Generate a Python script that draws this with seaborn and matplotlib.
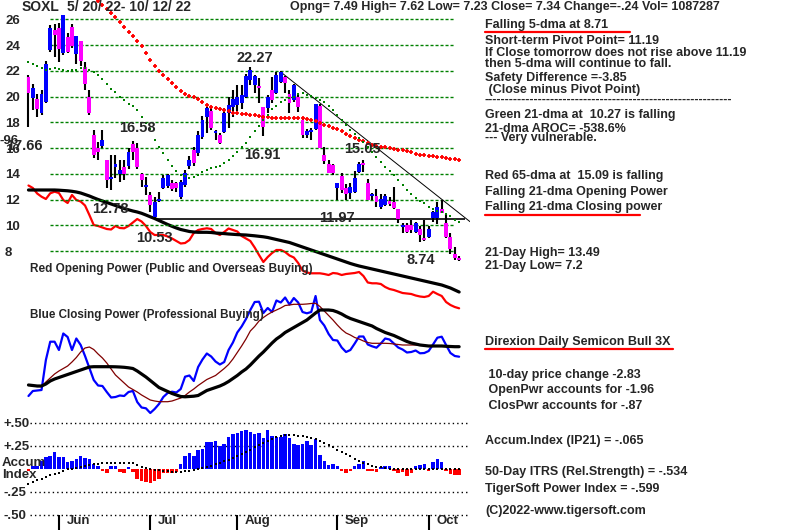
import matplotlib.pyplot as plt
import matplotlib.lines as mlines
import seaborn as sns

sns.set_style('white')
plt.rcParams['font.family'] = ['Liberation Sans', 'DejaVu Sans']
plt.rcParams['font.weight'] = 'bold'

# SOXL daily bars 5/20/22 - 10/12/22 (100 trading days)
days = list(range(100))
opens = [21.5, 19.9, 19.8, 18.7, 19.6, 23.6, 25.2, 25.3, 23.4, 24.6,
         25.4, 23.3, 24.3, 22.3, 20.0, 17.0, 16.0, 16.2, 15.1, 13.6,
         14.5, 14.0, 14.5, 14.6, 16.3, 16.0, 14.0, 12.97, 12.36, 10.65,
         11.9, 12.9, 13.05, 13.3, 13.3, 12.2, 13.1, 14.6, 15.85, 15.6,
         16.85, 18.4, 18.9, 17.2, 17.0, 17.25, 18.7, 19.2, 19.35, 19.5,
         20.0, 21.3, 20.9, 20.75, 19.2, 19.1, 20.5, 20.3, 21.1, 21.5,
         20.2, 19.75, 20.0, 18.2, 17.0, 17.25, 17.45, 19.3, 15.5, 14.8,
         14.7, 12.9, 13.8, 12.9, 12.5, 12.6, 14.15, 14.85, 13.3, 12.3,
         12.3, 11.45, 11.6, 11.9, 11.8, 11.25, 9.9, 10.0, 10.0, 9.5,
         9.7, 8.95, 9.1, 10.55, 10.6, 11.25, 10.2, 9.1, 7.8, 7.49]
highs = [21.7, 21.0, 20.2, 20.5, 22.8, 25.55, 25.6, 25.7, 26.3, 24.9,
         25.6, 24.7, 24.3, 22.7, 20.5, 17.4, 16.5, 17.4, 15.1, 15.5,
         15.5, 15.1, 15.1, 16.0, 16.58, 16.4, 14.05, 13.75, 12.6, 12.2,
         12.6, 13.9, 14.0, 13.5, 13.4, 13.5, 14.3, 15.4, 16.1, 17.3,
         18.5, 19.2, 19.1, 17.4, 17.2, 19.1, 20.0, 20.5, 20.9, 20.9,
         21.75, 22.27, 21.7, 21.45, 19.2, 20.1, 21.5, 21.9, 22.0, 21.6,
         20.5, 21.0, 20.2, 18.3, 17.5, 17.6, 19.4, 19.4, 16.1, 15.1,
         14.8, 13.3, 14.1, 13.2, 13.3, 14.2, 14.9, 15.05, 13.6, 12.5,
         12.8, 12.4, 12.4, 12.2, 13.0, 11.25, 10.2, 10.2, 10.45, 10.3,
         9.95, 10.4, 9.95, 11.15, 11.8, 12.0, 10.9, 9.4, 8.3, 7.62]
lows = [17.66, 18.95, 18.4, 18.6, 19.5, 23.5, 23.1, 22.7, 23.2, 23.4,
        23.8, 22.5, 22.4, 20.5, 18.6, 15.2, 15.1, 16.0, 12.9, 12.78,
        13.7, 13.4, 13.5, 14.4, 15.1, 14.4, 13.0, 12.35, 11.05, 10.53,
        11.8, 12.8, 12.9, 12.7, 12.6, 12.05, 13.0, 14.4, 14.6, 15.4,
        16.7, 17.2, 17.4, 16.6, 16.3, 17.2, 17.6, 18.4, 18.9, 19.0,
        19.9, 20.9, 20.3, 19.5, 16.91, 18.7, 19.5, 20.2, 21.05, 20.3,
        18.7, 19.6, 18.8, 16.8, 16.8, 16.6, 17.4, 16.0, 14.8, 14.05,
        13.9, 12.0, 12.5, 12.0, 12.05, 12.5, 14.1, 14.15, 12.0, 12.0,
        11.4, 11.3, 11.5, 11.5, 11.3, 10.2, 9.4, 9.4, 9.4, 9.4,
        8.74, 8.8, 9.0, 10.3, 10.1, 10.95, 9.0, 7.8, 7.3, 7.23]
closes = [20.3, 20.7, 19.0, 20.2, 22.5, 25.3, 24.8, 23.7, 26.3, 23.5,
          23.9, 24.7, 22.8, 21.0, 18.7, 15.5, 15.7, 16.6, 13.5, 13.7,
          14.8, 14.3, 14.0, 15.7, 15.7, 14.55, 13.5, 13.1, 11.6, 11.8,
          12.05, 13.7, 13.9, 12.8, 12.9, 13.35, 14.05, 15.1, 14.85, 17.0,
          18.2, 19.1, 17.55, 17.3, 16.4, 18.7, 19.35, 19.8, 19.95, 20.1,
          21.6, 22.1, 21.6, 20.65, 17.65, 20.0, 19.75, 21.7, 21.9, 21.05,
          19.5, 20.9, 19.2, 17.0, 17.3, 17.4, 19.4, 16.0, 15.0, 14.05,
          14.05, 13.3, 12.75, 12.45, 13.0, 13.7, 14.8, 14.7, 12.0, 12.45,
          11.8, 12.05, 12.3, 11.65, 11.35, 10.5, 9.95, 9.5, 9.65, 10.2,
          9.25, 8.9, 9.7, 11.05, 11.45, 11.0, 9.1, 8.15, 7.45, 7.34]

# red 65-dma (visible from day 16), green 21-dma
ma65_start = 16
ma65 = [27.4, 27.1, 26.8, 26.5, 26.2, 25.8, 25.4, 25.05, 24.7, 24.35,
        23.9, 23.4, 22.85, 22.4, 22.0, 21.65, 21.35, 21.05, 20.75, 20.45,
        20.2, 20.05, 19.95, 19.8, 19.6, 19.35, 19.22, 19.12, 19.02, 18.96,
        18.85, 18.72, 18.7, 18.68, 18.65, 18.6, 18.55, 18.5, 18.45, 18.4,
        18.36, 18.35, 18.34, 18.34, 18.33, 18.33, 18.32, 18.3, 18.25, 18.18,
        18.08, 17.95, 17.8, 17.7, 17.6, 17.45, 17.3, 17.12, 16.95, 16.78,
        16.65, 16.52, 16.4, 16.28, 16.2, 16.12, 16.05, 16.0, 15.95, 15.88,
        15.82, 15.75, 15.66, 15.56, 15.47, 15.43, 15.39, 15.35, 15.33, 15.28,
        15.23, 15.18, 15.13, 15.09]
ma21 = [22.66, 22.5, 22.35, 22.2, 22.1, 22.15, 22.2, 22.15, 22.06, 22.0,
        22.06, 22.1, 22.2, 22.2, 22.1, 21.9, 21.67, 21.4, 21.0, 20.6,
        20.35, 20.0, 19.73, 19.45, 19.25, 18.96, 18.45, 17.95, 17.5, 16.6,
        16.1, 15.6, 15.1, 14.6, 14.25, 13.95, 13.8, 13.7, 13.72, 13.9,
        14.12, 14.3, 14.48, 14.56, 14.64, 14.82, 15.08, 15.39, 15.72, 16.06,
        16.4, 16.85, 17.3, 17.7, 18.15, 18.6, 19.0, 19.3, 19.55, 19.73,
        19.87, 20.0, 20.2, 20.25, 20.15, 20.05, 19.9, 19.73, 19.55, 19.25,
        18.95, 18.6, 18.2, 17.8, 17.4, 17.1, 16.8, 16.5, 16.1, 15.7,
        15.33, 14.95, 14.56, 14.25, 13.95, 13.55, 13.15, 12.75, 12.4, 12.1,
        11.9, 11.7, 11.45, 11.25, 11.08, 11.05, 10.9, 10.7, 10.45, 10.27]

# resistance trend line and support line
trend_x = [58.4, 101.5]
trend_y = [21.8, 10.29]
support_level = 10.53
support_from, support_to = 29, 100.3

grid_levels = [8, 10, 12, 14, 16, 18, 20, 22, 24, 26]
price_notes = [('22.27', 52.1, 23.0), ('16.58', 25.1, 17.56), ('16.91', 53.8, 15.46),
               ('15.05', 76.8, 15.93), ('12.78', 18.9, 11.27), ('10.53', 28.9, 9.0),
               ('11.97', 70.9, 10.57), ('8.74', 90.2, 7.3)]

# Opening power (arbitrary units) and its 21-dma
open_pwr = [12.45, 12.2, 11.65, 11.33, 11.1, 11.67, 11.83, 11.7, 11.0, 10.7,
            11.5, 11.0, 10.85, 10.45, 9.5, 8.5, 8.4, 8.25, 8.1, 8.05,
            8.4, 8.2, 8.17, 8.4, 8.75, 9.1, 8.85, 8.4, 7.8, 7.5,
            7.5, 7.5, 7.35, 7.15, 6.9, 6.65, 6.7, 7.0, 7.7, 8.0,
            8.1, 8.17, 8.1, 7.7, 7.5, 7.8, 8.15, 8.0, 7.85, 7.4,
            7.15, 6.9, 6.25, 5.5, 4.8, 5.3, 5.7, 6.0, 6.0, 5.8,
            5.45, 5.25, 4.7, 3.95, 3.75, 3.67, 3.67, 3.67, 3.6, 3.5,
            3.7, 3.65, 3.5, 3.6, 3.65, 3.7, 3.8, 3.4, 2.75, 2.67,
            2.67, 2.6, 2.3, 2.1, 2.0, 1.85, 1.7, 1.65, 1.6, 1.45,
            1.35, 1.3, 1.4, 1.83, 1.6, 1.4, 0.8, 0.5, 0.3, 0.17]
open_pwr_ma = [12.0, 12.0, 12.0, 12.0, 12.0, 12.0, 12.0, 11.98, 11.95, 11.92,
               11.87, 11.8, 11.7, 11.55, 11.4, 11.22, 11.05, 10.9, 10.75, 10.6,
               10.45, 10.3, 10.15, 10.02, 9.9, 9.8, 9.67, 9.5, 9.32, 9.15,
               8.95, 8.75, 8.55, 8.37, 8.2, 8.05, 7.95, 7.85, 7.8, 7.77,
               7.77, 7.77, 7.75, 7.7, 7.67, 7.64, 7.6, 7.57, 7.54, 7.52,
               7.5, 7.46, 7.42, 7.37, 7.32, 7.25, 7.15, 7.05, 6.95, 6.85,
               6.75, 6.6, 6.45, 6.3, 6.15, 6.0, 5.85, 5.7, 5.55, 5.4,
               5.25, 5.1, 4.95, 4.8, 4.65, 4.52, 4.4, 4.3, 4.2, 4.1,
               4.0, 3.9, 3.8, 3.7, 3.6, 3.5, 3.4, 3.3, 3.2, 3.1,
               3.0, 2.9, 2.8, 2.7, 2.6, 2.5, 2.35, 2.2, 2.0, 1.8]

# Closing power (arbitrary units), short and long averages
close_pwr = [2.4, 2.9, 2.95, 3.0, 6.0, 7.83, 7.83, 7.0, 8.65, 8.3,
             7.0, 8.15, 7.5, 6.4, 5.2, 4.0, 3.45, 3.4, 2.8, 2.25,
             2.3, 2.45, 2.4, 2.8, 2.9, 1.8, 1.25, 1.17, 0.7, 1.1,
             1.6, 2.3, 2.7, 2.83, 2.75, 3.1, 4.33, 4.45, 3.9, 5.3,
             6.05, 6.65, 6.35, 5.85, 5.55, 5.8, 7.0, 7.75, 8.75, 9.35,
             10.1, 11.0, 11.8, 11.83, 10.7, 11.2, 10.8, 11.95, 11.75, 12.25,
             11.55, 12.2, 11.75, 10.8, 10.67, 10.8, 12.4, 10.0, 9.45, 8.6,
             8.0, 7.95, 7.25, 6.8, 7.0, 7.65, 8.35, 8.35, 7.55, 7.37,
             7.23, 7.65, 8.15, 8.05, 7.65, 7.25, 7.05, 6.75, 6.8, 6.95,
             6.67, 6.7, 6.9, 7.55, 8.23, 8.33, 7.5, 6.7, 6.4, 6.33]
close_pwr_ma = [3.5, 3.4, 3.35, 3.35, 3.8, 4.2, 4.6, 4.9, 5.15, 5.4,
                5.8, 6.25, 6.8, 7.2, 7.3, 7.05, 6.6, 6.2, 5.7, 5.1,
                4.5, 4.1, 3.7, 3.3, 3.05, 2.8, 2.5, 2.25, 2.0, 1.9,
                1.83, 1.83, 1.83, 1.9, 2.05, 2.2, 2.45, 2.8, 3.1, 3.45,
                3.75, 4.05, 4.25, 4.45, 4.8, 5.15, 5.55, 6.1, 6.75, 7.4,
                8.1, 8.9, 9.35, 9.9, 10.25, 10.55, 10.8, 11.0, 11.2, 11.45,
                11.5, 11.57, 11.57, 11.57, 11.6, 11.65, 11.67, 11.35, 10.9, 10.45,
                10.0, 9.5, 9.05, 8.7, 8.5, 8.25, 8.1, 7.9, 7.75, 7.67,
                7.67, 7.67, 7.67, 7.65, 7.6, 7.55, 7.5, 7.5, 7.5, 7.5,
                7.47, 7.44, 7.4, 7.4, 7.4, 7.4, 7.35, 7.3, 7.27, 7.27]
close_pwr_long = [3.5, 3.45, 3.4, 3.4, 3.6, 3.9, 4.1, 4.25, 4.4, 4.55,
                  4.7, 4.85, 5.0, 5.15, 5.3, 5.33, 5.33, 5.33, 5.33, 5.33,
                  5.32, 5.3, 5.27, 5.22, 5.15, 4.9, 4.6, 4.3, 3.95, 3.6,
                  3.25, 3.05, 2.85, 2.65, 2.5, 2.35, 2.32, 2.35, 2.38, 2.45,
                  2.7, 2.95, 3.1, 3.25, 3.4, 3.6, 3.85, 4.15, 4.45, 4.8,
                  5.1, 5.5, 5.95, 6.4, 6.8, 7.25, 7.7, 8.1, 8.4, 8.75,
                  9.0, 9.25, 9.5, 9.75, 10.0, 10.35, 10.7, 11.0, 11.0, 11.0,
                  10.95, 10.8, 10.6, 10.35, 10.15, 10.0, 9.85, 9.7, 9.55, 9.4,
                  9.15, 8.95, 8.75, 8.6, 8.45, 8.25, 8.05, 7.85, 7.7, 7.6,
                  7.5, 7.45, 7.4, 7.4, 7.4, 7.4, 7.37, 7.35, 7.33, 7.33]

# Accumulation index (IP21) bars and the dotted relative-strength line
accum = [-0.02, 0.03, 0.03, 0.08, 0.13, 0.14, 0.18, 0.13, 0.13, 0.07,
         0.08, 0.11, 0.14, 0.12, 0.11, 0.05, 0.03, -0.02, -0.05, 0.03,
         0.03, -0.03, -0.05, 0.02, -0.03, -0.11, -0.13, -0.14, -0.15, -0.13,
         -0.11, -0.04, -0.05, -0.04, -0.03, 0.05, 0.14, 0.17, 0.14, 0.2,
         0.22, 0.29, 0.29, 0.3, 0.25, 0.27, 0.35, 0.38, 0.39, 0.41,
         0.42, 0.4, 0.38, 0.39, 0.33, 0.42, 0.36, 0.35, 0.35, 0.38,
         0.34, 0.27, 0.26, 0.27, 0.3, 0.26, 0.32, 0.15, 0.08, 0.04,
         0.05, 0.03, -0.02, -0.05, -0.02, 0.03, 0.05, 0.08, -0.02, -0.02,
         -0.03, 0.02, 0.03, 0.03, -0.02, -0.04, -0.03, -0.08, -0.04, 0.03,
         0.04, 0.05, -0.02, 0.07, 0.11, 0.07, -0.02, -0.06, -0.07, -0.065]
itrs = [-0.16, -0.14, -0.12, -0.107, -0.09, -0.07, -0.055, -0.04, -0.02, -0.007,
        0.0, 0.01, 0.018, 0.03, 0.04, 0.051, 0.057, 0.062, 0.066, 0.066,
        0.066, 0.066, 0.066, 0.065, 0.062, 0.045, 0.02, 0.004, -0.005, -0.012,
        -0.018, -0.024, -0.029, -0.033, -0.032, -0.03, -0.026, -0.02, -0.012, -0.004,
        0.008, 0.02, 0.033, 0.048, 0.064, 0.081, 0.1, 0.122, 0.143, 0.165,
        0.188, 0.21, 0.235, 0.26, 0.283, 0.305, 0.325, 0.342, 0.355, 0.363,
        0.368, 0.366, 0.362, 0.357, 0.348, 0.337, 0.324, 0.303, 0.28, 0.257,
        0.233, 0.208, 0.184, 0.16, 0.135, 0.11, 0.088, 0.067, 0.048, 0.035,
        0.024, 0.015, 0.008, 0.003, 0.0, -0.003, -0.005, -0.007, -0.007, -0.007,
        -0.007, -0.005, -0.003, 0.0, 0.0, 0.0, 0.0, 0.0, 0.0, 0.0]
accum_levels = [0.5, 0.25, -0.25, -0.5]
accum_labels = ['+.50', '+.25', '-.25', '-.50']

month_names = ['Jun', 'Jul', 'Aug', 'Sep', 'Oct']
month_days = [7, 28, 48, 71, 92]

W, H = 800, 530
fig = plt.figure(figsize=(W / 100, H / 100), dpi=100)


def panel(top, bottom):
    ax = fig.add_axes([25 / W, 1 - bottom / H, 445 / W, (bottom - top) / H])
    ax.set_xlim(-0.8, 101.5)
    ax.patch.set_visible(False)
    for s in ax.spines.values():
        s.set_visible(False)
    ax.set_xticks([])
    ax.set_yticks([])
    return ax


# ---- opening power (overlaid on lower part of price panel)
ax_o = panel(170, 312)
ax_o.set_ylim(-0.2, 14)
sns.lineplot(x=days, y=open_pwr, color='#FF0000', linewidth=1.6, ax=ax_o)
sns.lineplot(x=days, y=open_pwr_ma, color='black', linewidth=2.3, ax=ax_o)

# ---- closing power
ax_c = panel(285, 420)
ax_c.set_ylim(0, 13.5)
sns.lineplot(x=days, y=close_pwr, color='#0000FF', linewidth=1.6, ax=ax_c)
sns.lineplot(x=days, y=close_pwr_ma, color='#800000', linewidth=0.9, ax=ax_c)
sns.lineplot(x=days, y=close_pwr_long, color='black', linewidth=2.3, ax=ax_c)

# ---- price
ax_p = panel(0, 280)
ax_p.set_ylim(5.76, 27.5)
ax_p.hlines(grid_levels, 5, 98, colors='#008000', linestyles=(0, (2.2, 1.4)), lw=1, zorder=1)
ax_p.hlines(support_level, support_from, support_to, colors='black', lw=1.2, zorder=2)
ax_p.plot(trend_x, trend_y, color='black', lw=0.7, zorder=2)

body_col = ['#0000FF' if c >= o else '#FF00FF' for o, c in zip(opens, closes)]
body_lo = [min(o, c) for o, c in zip(opens, closes)]
body_h = [max(abs(c - o), 0.15) for o, c in zip(opens, closes)]
ax_p.vlines(days, lows, highs, colors='black', lw=1.5, zorder=3)
ax_p.bar(days, body_h, bottom=body_lo, width=0.9, color=body_col, linewidth=0, zorder=4)

sns.scatterplot(x=days[ma65_start:], y=ma65, marker='+', s=10, color='#FF0000',
                linewidth=1.3, ax=ax_p, zorder=5, legend=False)
sns.scatterplot(x=days, y=ma21, marker='s', s=3, color='#008000',
                linewidth=0, ax=ax_p, zorder=5, legend=False)

for txt, xi, yv in price_notes:
    ax_p.text(xi, yv, txt, ha='center', va='center', fontsize=10.5, zorder=6)

ax_p.set_yticks(grid_levels)
ax_p.set_yticklabels([str(v) for v in grid_levels], fontsize=9.5)
ax_p.tick_params(axis='y', length=0, pad=14.4)
for t in ax_p.get_yticklabels():
    t.set_horizontalalignment('left')

# ---- accumulation index
ax_a = panel(415, 530)
ax_a.set_ylim(-0.665, 0.585)
ax_a.hlines(accum_levels, 0.3, 101.5, colors='black', linestyles=(0, (1, 2.2)), lw=1)
acc_col = ['#0000FF' if v >= 0 else '#FF0000' for v in accum]
ax_a.bar(days, accum, width=0.8, color=acc_col, linewidth=0, zorder=3)
sns.scatterplot(x=days, y=itrs, marker='s', s=3, color='black',
                linewidth=0, ax=ax_a, zorder=4, legend=False)
ax_a.set_yticks(accum_levels)
ax_a.set_yticklabels(accum_labels, fontsize=9.5)
ax_a.tick_params(axis='y', length=0, pad=15.8)
for t in ax_a.get_yticklabels():
    t.set_horizontalalignment('left')
ax_a.vlines(month_days, -0.665, -0.503, colors='black', lw=1.5)
for m, name in zip(month_days, month_names):
    ax_a.text(m + 1.8, -0.567, name, ha='left', va='center', fontsize=9.5)


# ---- free text
def ftext(x, y, s, size=9, ha='left'):
    fig.text(x / W, 1 - y / H, s, fontsize=size, va='center', ha=ha)


def uline(x0, x1, y):
    fig.add_artist(mlines.Line2D([x0 / W, x1 / W], [1 - y / H] * 2, color='#FF0000', lw=1.6))


ftext(22, 7, 'SOXL', 10)
ftext(67, 7, '5/ 20/ 22- 10/ 12/ 22', 10)
ftext(290, 7, 'Opng= 7.49 High= 7.62 Low= 7.23 Close= 7.34 Change=-.24 Vol= 1087287', 9)
ftext(0, 141, '-96', 9.5)
ftext(43, 146, '17.66', 10.5, ha='right')
ftext(30, 269, 'Red Opening Power (Public and Overseas Buying)', 8.5)
ftext(30, 315, 'Blue Closing Power (Professional Buying)', 8.4)
ftext(2, 463, 'Accum', 9.5)
ftext(2, 475, 'Index', 9.5)

right_lines = [
    (25, 'Falling 5-dma at 8.71'),
    (41, 'Short-term Pivot Point= 11.19'),
    (52.7, 'If Close tomorrow does not rise above 11.19'),
    (64.3, 'then 5-dma will continue to fall.'),
    (78.3, 'Safety Difference =-3.85'),
    (90, ' (Close minus Pivot Point)'),
    (100, '-' * 60),
    (115, 'Green 21-dma at  10.27 is falling'),
    (129.3, '21-dma AROC= -538.6%'),
    (138.5, '--- Very vulnerable.'),
    (175.7, 'Red 65-dma at  15.09 is falling'),
    (192.3, 'Falling 21-dma Opening Power'),
    (206.7, 'Falling 21-dma Closing power'),
    (252.7, '21-Day High= 13.49'),
    (265.7, '21-Day Low= 7.2'),
    (341.7, 'Direxion Daily Semicon Bull 3X'),
    (375, ' 10-day price change -2.83'),
    (390, ' OpenPwr accounts for -1.96'),
    (406, ' ClosPwr accounts for -.87'),
    (441, 'Accum.Index (IP21) = -.065'),
    (471.7, '50-Day ITRS (Rel.Strength) = -.534'),
    (489.3, 'TigerSoft Power Index = -.599'),
    (510.7, '(C)2022-www.tigersoft.com'),
]
for y, s in right_lines:
    ftext(485, y, s)

uline(485, 630, 32.3)
uline(485, 640, 215)
uline(485, 673, 349)

fig.savefig('out.png', dpi=100)
